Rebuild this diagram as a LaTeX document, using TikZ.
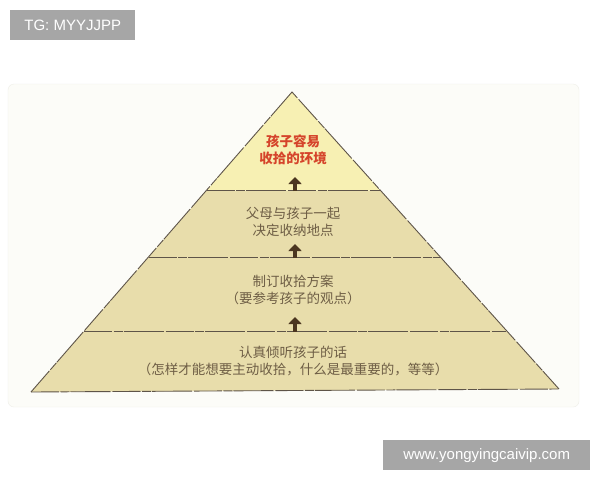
\documentclass[tikz,border=0pt]{standalone}
\usepackage{fontspec}
\setmainfont{Liberation Sans}
\newfontfamily\cjk{Noto Sans CJK SC}
\usetikzlibrary{arrows.meta}
\definecolor{tanfill}{HTML}{E8DDAB}
\definecolor{topfill}{HTML}{F7F0B3}
\definecolor{edgec}{HTML}{5E5448}
\definecolor{txtc}{HTML}{6E5E45}
\definecolor{redc}{HTML}{D5442B}
\definecolor{arrc}{HTML}{4B3620}
\definecolor{wmgray}{HTML}{A6A6A6}
\definecolor{panelc}{HTML}{FCFCF8}
\definecolor{paneledge}{HTML}{EFEFE8}
\tikzset{
  levtext/.style={font=\cjk\fontsize{13.5}{17}\selectfont, text=txtc, align=center, inner sep=0pt},
  toptext/.style={font=\cjk\bfseries\fontsize{13.5}{17}\selectfont, text=redc, align=center, inner sep=0pt},
  sketch/.style={draw=edgec, line width=0.9pt, dash pattern=on 28pt off 1.5pt on 9pt off 1pt on 40pt off 2pt},
  uparrow/.style={draw=arrc, line width=4.5pt, -{Triangle[width=13pt,length=7pt]}},
  wm/.style={fill=wmgray, text=white, font=\fontsize{15}{18}\selectfont, inner sep=0pt, anchor=north west}
}
\begin{document}
\begin{tikzpicture}[x=1pt,y=-1pt]
\useasboundingbox (0,0) rectangle (600,480);
\fill[white] (0,0) rectangle (600,480);
% panel
\draw[fill=panelc, draw=paneledge, rounded corners=6pt] (8,84) rectangle (579,407);
% pyramid corners
\coordinate (apex) at (292,92);
\coordinate (bl) at (31,392);
\coordinate (br) at (559,389);
\coordinate (l1) at (206.7,190.5);
\coordinate (r1) at (380.3,190.5);
\coordinate (l2) at (148.5,257.5);
\coordinate (r2) at (440.5,257.5);
\coordinate (l3) at (84,331.5);
\coordinate (r3) at (506,331.5);
% fills
\fill[tanfill] (bl) -- (l1) -- (r1) -- (br) -- cycle;
\fill[topfill] (apex) -- (l1) -- (r1) -- cycle;
% edges
\draw[sketch] (bl) -- (apex) -- (br);
\draw[sketch] (bl) -- (br);
\draw[sketch] (l1) -- (r1);
\draw[sketch] (l2) -- (r2);
\draw[sketch] (l3) -- (r3);
% arrows
\coordinate (a1s) at (295,191);
\coordinate (a1e) at (295,177);
\coordinate (a2s) at (295,258);
\coordinate (a2e) at (295,244);
\coordinate (a3s) at (295,332);
\coordinate (a3e) at (295,317);
\draw[uparrow] (a1s) -- (a1e);
\draw[uparrow] (a2s) -- (a2e);
\draw[uparrow] (a3s) -- (a3e);
% texts
\node[toptext] (t1) at (293,150) {孩子容易\\收拾的环境};
\node[levtext] (t2) at (293,221.5) {父母与孩子一起\\决定收纳地点};
\node[levtext] (t3) at (293,290) {制订收拾方案\\（要参考孩子的观点）};
\node[levtext] (t4) at (293,361) {认真倾听孩子的话\\（怎样才能想要主动收拾，什么是最重要的，等等）};
% watermarks
\node[wm, minimum width=125pt, minimum height=30pt] (wm1) at (10,10) {TG: MYYJJPP};
\node[wm, minimum width=207pt, minimum height=30pt] (wm2) at (383,440) {www.yongyingcaivip.com};
\end{tikzpicture}
\end{document}
